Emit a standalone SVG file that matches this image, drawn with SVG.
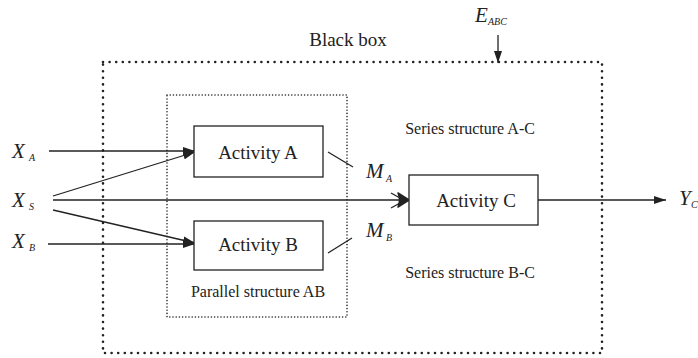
<svg xmlns="http://www.w3.org/2000/svg" width="698" height="358" viewBox="0 0 698 358" font-family="'Liberation Serif', 'Times New Roman', Times, serif">
  <style>
    text { fill: #222; }
    .box { fill: #fff; stroke: #222; stroke-width: 1.3; }
    .act { font-size: 19px; text-anchor: middle; }
    .note { font-size: 16px; text-anchor: middle; }
    .var { font-size: 21px; font-style: italic; }
    .sub { font-size: 10px; font-style: italic; }
    .wire { stroke: #222; stroke-width: 1.3; fill: none; }
    .outer { fill: none; stroke: #222; stroke-width: 2.6; stroke-dasharray: 0 6.6; stroke-linecap: round; }
    .inner { fill: none; stroke: #222; stroke-width: 1.6; stroke-dasharray: 0 3.2; stroke-linecap: round; }
  </style>
  <defs>
    <marker id="arrow" viewBox="0 0 12 8" refX="12" refY="4" markerWidth="12" markerHeight="8" markerUnits="userSpaceOnUse" orient="auto">
      <path d="M0,0 L12,4 L0,8 Z" fill="#222"/>
    </marker>
  </defs>

  <rect width="698" height="358" fill="#fff"/>

  <!-- enclosing structures -->
  <g id="black-box">
    <rect class="outer" x="103" y="62" width="499" height="291"/>
    <text x="348" y="46" font-size="19" text-anchor="middle">Black box</text>
  </g>
  <g id="parallel-ab">
    <rect class="inner" x="167" y="95" width="180" height="222"/>
    <text class="note" x="258" y="297">Parallel structure AB</text>
  </g>
  <text class="note" x="470" y="134">Series structure A-C</text>
  <text class="note" x="470" y="278">Series structure B-C</text>

  <!-- connectors -->
  <g id="connectors">
    <line class="wire" x1="49" y1="151" x2="195" y2="151" marker-end="url(#arrow)"/>
    <line class="wire" x1="53" y1="196" x2="195" y2="152" marker-end="url(#arrow)"/>
    <line class="wire" x1="53" y1="200" x2="400" y2="200"/>
    <path d="M398,193 L409,200 L398,207 Q401,200 398,193 Z" fill="#222" stroke="#222" stroke-width="1.5" stroke-linejoin="round"/>
    <line class="wire" x1="53" y1="210" x2="195" y2="243" marker-end="url(#arrow)"/>
    <line class="wire" x1="48" y1="244" x2="195" y2="244" marker-end="url(#arrow)"/>
    <line class="wire" x1="538" y1="200" x2="666" y2="200" marker-end="url(#arrow)"/>
    <line class="wire" x1="498" y1="35" x2="498" y2="63" marker-end="url(#arrow)"/>
    <!-- flow marks from A and B -->
    <line class="wire" x1="328" y1="152" x2="353" y2="167"/>
    <line class="wire" x1="328" y1="253" x2="352" y2="238"/>
    <line class="wire" x1="391" y1="193" x2="400" y2="198"/>
    <line class="wire" x1="391" y1="208" x2="400" y2="203"/>
  </g>

  <!-- activities -->
  <g id="activity-a">
    <rect class="box" x="194" y="126" width="129" height="51"/>
    <text class="act" x="258" y="159">Activity A</text>
  </g>
  <g id="activity-b">
    <rect class="box" x="194" y="221" width="129" height="49"/>
    <text class="act" x="258" y="251">Activity B</text>
  </g>
  <g id="activity-c">
    <rect class="box" x="409" y="175" width="129" height="50"/>
    <text class="act" x="476" y="207">Activity C</text>
  </g>

  <!-- variables -->
  <g id="x-a"><text class="var" x="12" y="158">X</text><text class="sub" x="29" y="161">A</text></g>
  <g id="x-s"><text class="var" x="12" y="207">X</text><text class="sub" x="29" y="210">S</text></g>
  <g id="x-b"><text class="var" x="12" y="248">X</text><text class="sub" x="29" y="251">B</text></g>
  <g id="m-a"><text class="var" x="366" y="178">M</text><text class="sub" x="386" y="182">A</text></g>
  <g id="m-b"><text class="var" x="366" y="237">M</text><text class="sub" x="386" y="241">B</text></g>
  <g id="y-c"><text class="var" x="679" y="205">Y</text><text class="sub" x="691" y="208">C</text></g>
  <g id="e-abc"><text class="var" x="475" y="22">E</text><text class="sub" x="488" y="25">ABC</text></g>
</svg>
